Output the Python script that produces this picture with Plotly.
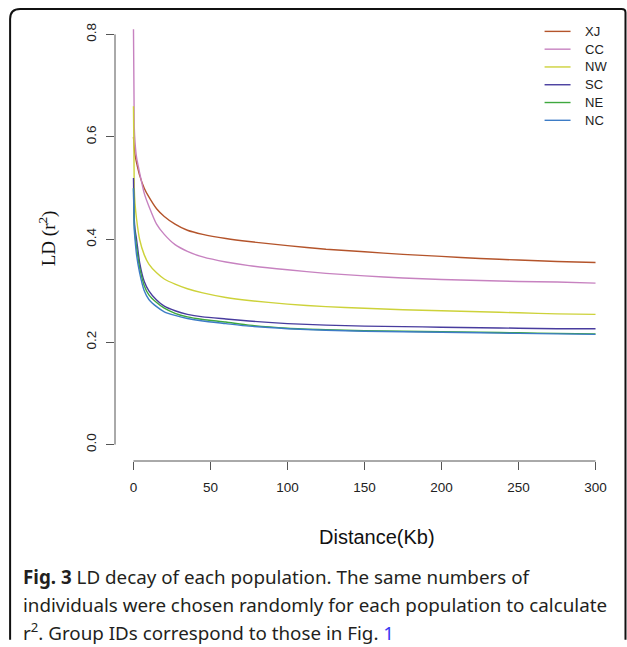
import plotly.graph_objects as go

distance = [0, 0.5, 1, 2, 4, 7, 10, 15, 20, 27, 35, 45, 60, 75, 100, 125, 150, 175, 200, 225, 250, 275, 300]

XJ = [0.60, 0.58, 0.565, 0.55, 0.525, 0.50, 0.483, 0.46, 0.445, 0.43, 0.418, 0.41, 0.402, 0.396, 0.388, 0.381, 0.376, 0.371, 0.367, 0.363, 0.360, 0.357, 0.355]
CC = [0.81, 0.62, 0.59, 0.56, 0.53, 0.49, 0.465, 0.43, 0.41, 0.39, 0.377, 0.366, 0.356, 0.349, 0.341, 0.334, 0.329, 0.325, 0.322, 0.320, 0.318, 0.317, 0.315]
NW = [0.66, 0.50, 0.47, 0.44, 0.40, 0.37, 0.352, 0.335, 0.323, 0.313, 0.304, 0.296, 0.287, 0.281, 0.274, 0.269, 0.266, 0.263, 0.261, 0.259, 0.257, 0.255, 0.254]
SC = [0.52, 0.44, 0.42, 0.40, 0.355, 0.318, 0.300, 0.282, 0.270, 0.261, 0.254, 0.249, 0.245, 0.241, 0.236, 0.233, 0.231, 0.230, 0.229, 0.228, 0.227, 0.226, 0.226]
NE = [0.50, 0.43, 0.41, 0.385, 0.345, 0.31, 0.292, 0.277, 0.266, 0.256, 0.249, 0.244, 0.239, 0.233, 0.227, 0.224, 0.222, 0.221, 0.220, 0.219, 0.218, 0.217, 0.216]
NC = [0.50, 0.42, 0.40, 0.37, 0.335, 0.30, 0.283, 0.269, 0.259, 0.252, 0.246, 0.241, 0.236, 0.231, 0.226, 0.223, 0.221, 0.220, 0.219, 0.218, 0.217, 0.216, 0.215]

series_names = ["XJ", "CC", "NW", "SC", "NE", "NC"]
series_values = [XJ, CC, NW, SC, NE, NC]
series_colors = ["#B4542B", "#C782C0", "#CDD23A", "#483C9E", "#3EA83E", "#3D7CC6"]

x_ticks = [0, 50, 100, 150, 200, 250, 300]
y_ticks = [0.0, 0.2, 0.4, 0.6, 0.8]
y_tick_labels = ["0.0", "0.2", "0.4", "0.6", "0.8"]

W, H = 627, 647
L, R, T, B = 115, 12.5, 17.6, 186
pw = W - L - R
ph = H - T - B


def px(x):
    return (x - L) / pw


def py(y):
    return (H - B - y) / ph


fig = go.Figure()
for name, vals, col in zip(series_names, series_values, series_colors):
    fig.add_trace(go.Scatter(
        x=distance, y=vals, mode="lines", name=name,
        line=dict(color=col, width=1.4, shape="spline", smoothing=0.5),
    ))

axis_col = "#555555"
tick_font = dict(family="Liberation Sans, Arial", size=13.5, color="#222222")
fig.update_layout(
    width=W, height=H,
    margin=dict(l=L, r=R, t=T, b=B, pad=0),
    paper_bgcolor="white", plot_bgcolor="white",
    showlegend=False,
    xaxis=dict(
        range=[-12, 312], showgrid=False, zeroline=False, showline=False,
        tickmode="array", tickvals=x_ticks, ticktext=[str(v) for v in x_ticks],
        ticks="outside", ticklen=8, tickcolor=axis_col, tickwidth=1,
        ticklabelstandoff=6, tickfont=tick_font,
    ),
    yaxis=dict(
        range=[-0.032, 0.832], showgrid=False, zeroline=False, showline=False,
        tickmode="array", tickvals=y_ticks, ticktext=y_tick_labels,
        ticks="outside", ticklen=8, tickcolor=axis_col, tickwidth=1, tickangle=-90,
        ticklabelstandoff=5, tickfont=tick_font,
    ),
)

# legend (R style: short line + label, no box)
leg_top, leg_step = 31, 17.8
for i, (name, col) in enumerate(zip(series_names, series_colors)):
    yy = leg_top + i * leg_step
    fig.add_shape(type="line", xref="paper", yref="paper",
                  x0=px(545), x1=px(571), y0=py(yy), y1=py(yy),
                  line=dict(color=col, width=1.4))
    fig.add_annotation(xref="paper", yref="paper", x=px(583), y=py(yy),
                       xanchor="left", yanchor="middle", text=name, showarrow=False,
                       font=dict(family="Liberation Sans, Arial", size=13, color="#222222"))

# axis lines spanning only the tick range (R style)
fig.add_shape(type="line", xref="x", yref="paper", x0=0, x1=300, y0=0, y1=0,
              line=dict(color=axis_col, width=1))
fig.add_shape(type="line", xref="paper", yref="y", x0=0, x1=0, y0=0, y1=0.8,
              line=dict(color=axis_col, width=1))

# rounded frame around the figure
rr = 10
path = (f"M {px(10)},{py(640)} L {px(10)},{py(8.5 + rr)} "
        f"Q {px(10)},{py(8.5)} {px(10 + rr)},{py(8.5)} L {px(622)},{py(8.5)} "
        f"Q {px(626)},{py(8.5)} {px(626)},{py(12)} L {px(626)},{py(640)}")
fig.add_shape(type="path", xref="paper", yref="paper", path=path,
              line=dict(color="#111111", width=2))

# axis titles
fig.add_annotation(xref="paper", yref="paper", x=px(47), y=py(238),
                   xanchor="center", yanchor="middle",
                   text="LD (r<sup>2</sup>)", textangle=-90, showarrow=False,
                   font=dict(family="Liberation Serif, Times New Roman", size=19, color="#111111"))
fig.add_annotation(xref="paper", yref="paper", x=px(377), y=py(537),
                   xanchor="center", yanchor="middle",
                   text="Distance(Kb)", showarrow=False,
                   font=dict(family="Liberation Sans, Arial", size=20, color="#111111"))

# caption
cap_font = dict(family="Noto Sans", size=18.8, color="#231f20")
caption_lines = [
    "<b>Fig. 3</b> LD decay of each population. The same numbers of",
    "individuals were chosen randomly for each population to calculate",
    "r<sup>2</sup>. Group IDs correspond to those in Fig. <span style='color:#3a3af2'>1</span>",
]
for line, yy in zip(caption_lines, [577, 605, 632]):
    fig.add_annotation(xref="paper", yref="paper", x=px(21), y=py(yy),
                       xanchor="left", yanchor="middle", text=line, showarrow=False,
                       font=cap_font)

fig.write_html("out.html", config={"displayModeBar": False},
               post_script="document.body.style.margin='0';")
